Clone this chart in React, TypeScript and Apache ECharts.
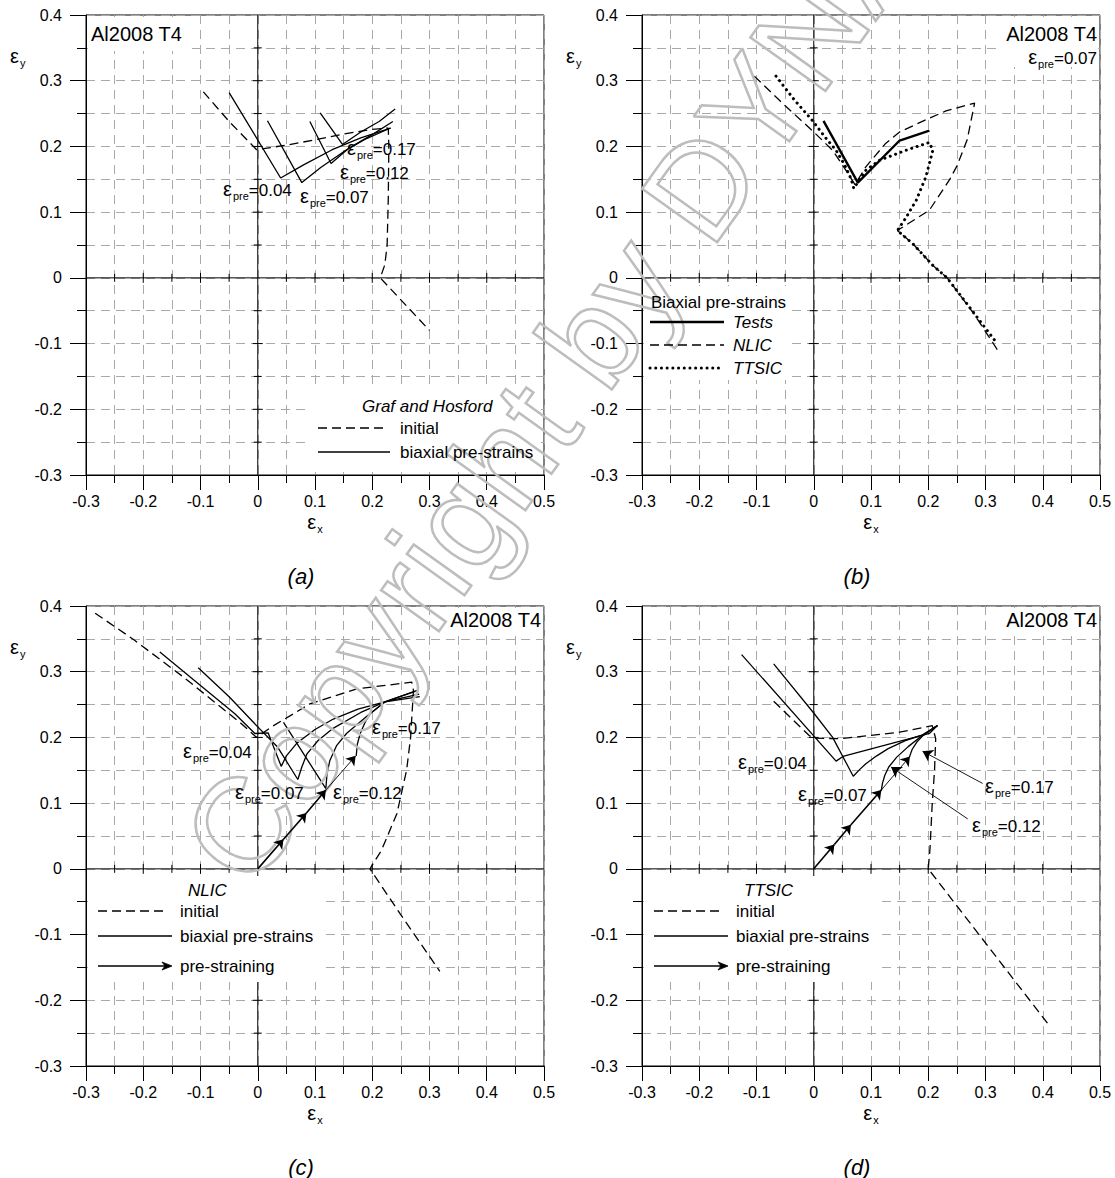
import React, { useEffect, useRef } from "react";
import * as echarts from "echarts";

const FONT = "'Liberation Sans', Arial, Helvetica, sans-serif";

// ---------- axes ----------
const X_MIN = -0.3;
const X_MAX = 0.5;
const Y_MIN = -0.3;
const Y_MAX = 0.4;
const innerTicksX = [-0.25, -0.2, -0.15, -0.1, -0.05, 0.05, 0.1, 0.15, 0.2, 0.25, 0.3, 0.35, 0.4, 0.45];
const innerTicksY = [-0.25, -0.2, -0.15, -0.1, -0.05, 0.05, 0.1, 0.15, 0.2, 0.25, 0.3, 0.35];

// ---------- panel (a): Graf and Hosford ----------
const aInitial = [[-0.095, 0.283], [-0.05, 0.238], [-0.002, 0.195], [0.05, 0.202], [0.1, 0.21], [0.15, 0.219], [0.2, 0.226], [0.228, 0.228], [0.229, 0.2], [0.228, 0.12], [0.226, 0.05], [0.222, 0.02], [0.214, 0.0], [0.3, -0.08]];
const aPre004 = [[-0.05, 0.282], [0.04, 0.152], [0.08, 0.172], [0.13, 0.195], [0.18, 0.213], [0.232, 0.228]];
const aPre007 = [[0.017, 0.239], [0.077, 0.145], [0.11, 0.168], [0.15, 0.192], [0.19, 0.212], [0.232, 0.228]];
const aPre012 = [[0.091, 0.238], [0.128, 0.174], [0.16, 0.198], [0.2, 0.218], [0.236, 0.238]];
const aPre017 = [[0.109, 0.251], [0.148, 0.203], [0.18, 0.222], [0.212, 0.238], [0.24, 0.257]];

// ---------- panel (b): pre-strain 0.07 ----------
const bTests = [[0.017, 0.239], [0.077, 0.145], [0.15, 0.209], [0.202, 0.224]];
const bNLIC = [[-0.104, 0.307], [-0.05, 0.262], [0.0, 0.222], [0.033, 0.194], [0.056, 0.164], [0.072, 0.142], [0.091, 0.169], [0.126, 0.205], [0.15, 0.222], [0.202, 0.243], [0.231, 0.254], [0.281, 0.266], [0.268, 0.21], [0.25, 0.17], [0.237, 0.149], [0.202, 0.103], [0.155, 0.077], [0.146, 0.072], [0.173, 0.052], [0.208, 0.019], [0.233, 0.0], [0.28, -0.055], [0.325, -0.115]];
const bTTSIC = [[-0.066, 0.307], [-0.035, 0.272], [-0.001, 0.238], [0.019, 0.215], [0.039, 0.194], [0.054, 0.172], [0.065, 0.151], [0.07, 0.136], [0.09, 0.163], [0.115, 0.179], [0.167, 0.196], [0.202, 0.206], [0.208, 0.194], [0.202, 0.174], [0.196, 0.154], [0.179, 0.118], [0.16, 0.09], [0.146, 0.072], [0.173, 0.052], [0.208, 0.019], [0.233, 0.0], [0.275, -0.048], [0.316, -0.095]];

// ---------- panel (c): NLIC ----------
const cInitial = [[-0.284, 0.389], [-0.217, 0.349], [-0.13, 0.292], [-0.06, 0.243], [-0.03, 0.222], [-0.002, 0.2], [0.024, 0.216], [0.091, 0.251], [0.173, 0.274], [0.269, 0.284], [0.272, 0.272], [0.267, 0.2], [0.26, 0.15], [0.243, 0.084], [0.216, 0.028], [0.196, 0.0], [0.25, -0.07], [0.318, -0.156]];
const cPre004 = [[-0.171, 0.33], [-0.1, 0.279], [-0.04, 0.236], [-0.005, 0.206], [0.018, 0.207], [0.041, 0.156], [0.05, 0.172], [0.068, 0.191], [0.1, 0.212], [0.132, 0.228], [0.175, 0.243], [0.222, 0.254], [0.28, 0.272]];
const cPre007 = [[-0.104, 0.306], [-0.05, 0.262], [0.0, 0.216], [0.035, 0.185], [0.07, 0.136], [0.077, 0.155], [0.086, 0.175], [0.105, 0.195], [0.13, 0.213], [0.18, 0.238], [0.222, 0.254], [0.282, 0.266]];
const cPre012 = [[0.045, 0.223], [0.119, 0.122], [0.121, 0.145], [0.126, 0.165], [0.138, 0.188], [0.155, 0.206], [0.19, 0.232], [0.222, 0.254], [0.283, 0.262]];
const cPre017 = [[0.172, 0.172], [0.174, 0.19], [0.179, 0.206], [0.187, 0.222], [0.196, 0.236], [0.222, 0.254], [0.275, 0.27]];
const cPathThick = [[[0, 0], [0.045, 0.045]], [[0.045, 0.045], [0.085, 0.085]], [[0.085, 0.085], [0.119, 0.12]]];
const cPathThin = [[[0.119, 0.12], [0.171, 0.172]]];

// ---------- panel (d): TTSIC ----------
const dInitial = [[-0.07, 0.255], [-0.008, 0.203], [0.0, 0.199], [0.045, 0.198], [0.1, 0.203], [0.15, 0.208], [0.207, 0.218], [0.213, 0.198], [0.211, 0.15], [0.207, 0.1], [0.203, 0.03], [0.2, 0.0], [0.263, -0.071], [0.411, -0.238]];
const dPre004 = [[-0.126, 0.326], [0.039, 0.164], [0.051, 0.171], [0.202, 0.206], [0.216, 0.218]];
const dPre007 = [[-0.07, 0.312], [0.001, 0.236], [0.033, 0.2], [0.069, 0.141], [0.08, 0.151], [0.091, 0.16], [0.11, 0.172], [0.13, 0.183], [0.16, 0.195], [0.19, 0.204], [0.216, 0.218]];
const dPre012 = [[0.118, 0.119], [0.12, 0.13], [0.124, 0.142], [0.131, 0.155], [0.145, 0.17], [0.165, 0.186], [0.185, 0.2], [0.205, 0.211], [0.216, 0.218]];
const dPre017 = [[0.167, 0.17], [0.172, 0.182], [0.18, 0.193], [0.19, 0.202], [0.2, 0.209], [0.216, 0.218]];
const dPathThick = [[[0, 0], [0.036, 0.037]], [[0.036, 0.037], [0.065, 0.067]], [[0.065, 0.067], [0.118, 0.12]]];
const dPathThin = [[[0.118, 0.12], [0.168, 0.171]]];
const dPointer017 = [[[0.295, 0.13], [0.19, 0.179]]];
const dPointer012 = [[[0.269, 0.076], [0.135, 0.155]]];

// ---------- layout ----------
const W = 458;
const H = 460;
const GRIDS = [
  { left: 86, top: 15 },
  { left: 642, top: 15 },
  { left: 86, top: 606 },
  { left: 642, top: 606 },
];

const DASH = [9, 5];
const DOT = [0.1, 5.6];

const RICH = {
  e: { fontFamily: FONT, fontSize: 20, fill: "#000", color: "#000", verticalAlign: "bottom", padding: [0, 1, 3, 0] },
  s: { fontFamily: FONT, fontSize: 11, fill: "#000", color: "#000", verticalAlign: "bottom", padding: [0, 0, 0, 0] },
  n: { fontFamily: FONT, fontSize: 17, fill: "#000", color: "#000", verticalAlign: "bottom", padding: [0, 0, 3, 0] },
};

function fmt(v: number) {
  const r = Math.round(v * 10) / 10;
  return r === 0 ? "0" : r.toFixed(1);
}

function txt(x: number, y: number, text: string, o: any = {}) {
  return {
    type: "text",
    x,
    y,
    z: 20,
    style: {
      text,
      fontFamily: FONT,
      fontSize: o.size ?? 17,
      fontStyle: o.italic ? "italic" : "normal",
      fill: "#000",
      align: o.align ?? "left",
      verticalAlign: "middle",
    },
  };
}

function eps(x: number, y: number, sub: string, rest: string, align = "left") {
  const text = "{e|ε}{s|" + sub + "}" + (rest ? "{n|" + rest + "}" : "");
  return {
    type: "text",
    x,
    y,
    z: 20,
    style: { text, rich: RICH, fill: "#000", align, verticalAlign: "middle" },
  };
}

function seg(x1: number, x2: number, y: number, dash: any, width = 1.3) {
  return {
    type: "line",
    z: 20,
    shape: { x1, y1: y, x2, y2: y },
    style: { stroke: "#000", lineWidth: width, lineDash: dash, lineCap: dash && dash[0] < 1 ? "round" : "butt" },
  };
}

function arrowSample(x1: number, x2: number, y: number) {
  return [
    seg(x1, x2 - 3, y, null, 1.3),
    {
      type: "polygon",
      z: 20,
      shape: { points: [[x2, y], [x2 - 10, y - 4], [x2 - 7, y], [x2 - 10, y + 4]] },
      style: { fill: "#000", stroke: "#000", lineWidth: 0.8 },
    },
  ];
}

function whiteBox(x: number, y: number, w: number, h: number) {
  return { type: "rect", z: 2, shape: { x, y, width: w, height: h }, style: { fill: "#fff" } };
}

function lineSeries(data: number[][], gi: number, kind: "solid" | "dashed" | "dotted", width = 1.3) {
  const ls: any = { color: "#000", width, type: "solid" };
  if (kind === "dashed") ls.type = DASH;
  if (kind === "dotted") {
    ls.type = DOT;
    ls.width = 3;
    ls.cap = "round";
  }
  return {
    type: "line",
    xAxisIndex: gi,
    yAxisIndex: gi,
    data,
    showSymbol: false,
    symbol: "none",
    silent: true,
    z: 3,
    lineStyle: ls,
  };
}

function arrowSeries(segs: number[][][], gi: number, width = 1.4, size = 9) {
  return {
    type: "lines",
    coordinateSystem: "cartesian2d",
    xAxisIndex: gi,
    yAxisIndex: gi,
    silent: true,
    z: 4,
    symbol: ["none", "arrow"],
    symbolSize: size,
    lineStyle: { color: "#000", width, opacity: 1, curveness: 0 },
    itemStyle: { color: "#000" },
    data: segs.map((s) => ({ coords: s })),
  };
}

function innerAxes(gi: number) {
  return {
    type: "custom",
    xAxisIndex: gi,
    yAxisIndex: gi,
    silent: true,
    z: 1,
    data: [[0, 0]],
    encode: { x: 0, y: 1 },
    renderItem: (_p: any, api: any) => {
      const st = { stroke: "#000", lineWidth: 1 };
      const ch: any[] = [];
      const a = api.coord([0, Y_MIN]);
      const b = api.coord([0, Y_MAX]);
      ch.push({ type: "line", shape: { x1: a[0], y1: a[1], x2: b[0], y2: b[1] }, style: st });
      const c = api.coord([X_MIN, 0]);
      const d = api.coord([X_MAX, 0]);
      ch.push({ type: "line", shape: { x1: c[0], y1: c[1], x2: d[0], y2: d[1] }, style: st });
      innerTicksY.forEach((v) => {
        const p = api.coord([0, v]);
        const l = Math.abs(Math.round(v * 10) - v * 10) < 1e-6 ? 5 : 4;
        ch.push({ type: "line", shape: { x1: p[0] - l, y1: p[1], x2: p[0] + l, y2: p[1] }, style: st });
      });
      innerTicksX.forEach((v) => {
        const p = api.coord([v, 0]);
        const l = Math.abs(Math.round(v * 10) - v * 10) < 1e-6 ? 5 : 4;
        ch.push({ type: "line", shape: { x1: p[0], y1: p[1] - l, x2: p[0], y2: p[1] + l }, style: st });
      });
      return { type: "group", children: ch };
    },
  };
}

function buildOption() {
  const gridLine = { color: "#a9a9a9", type: [9, 6], width: 1 };
  const grid = GRIDS.map((g) => ({
    left: g.left,
    top: g.top,
    width: W,
    height: H,
    show: true,
    borderColor: "#000",
    borderWidth: 1,
    backgroundColor: "transparent",
  }));
  const xAxis = GRIDS.map((_g, i) => ({
    gridIndex: i,
    type: "value",
    min: X_MIN,
    max: X_MAX,
    interval: 0.1,
    axisLine: { onZero: false, lineStyle: { color: "#000", width: 1 } },
    axisTick: { length: 15, lineStyle: { color: "#000", width: 1 } },
    minorTick: { show: true, splitNumber: 2, length: 8, lineStyle: { color: "#000", width: 1 } },
    splitLine: { show: true, lineStyle: gridLine },
    minorSplitLine: { show: true, lineStyle: gridLine },
    axisLabel: { formatter: fmt, fontSize: 16, fontFamily: FONT, color: "#000", margin: 18 },
  }));
  const yAxis = GRIDS.map((_g, i) => ({
    gridIndex: i,
    type: "value",
    min: Y_MIN,
    max: Y_MAX,
    interval: 0.1,
    axisLine: { onZero: false, lineStyle: { color: "#000", width: 1 } },
    axisTick: { length: 16, lineStyle: { color: "#000", width: 1 } },
    minorTick: { show: true, splitNumber: 2, length: 9, lineStyle: { color: "#000", width: 1 } },
    splitLine: { show: true, lineStyle: gridLine },
    minorSplitLine: { show: true, lineStyle: gridLine },
    axisLabel: { formatter: fmt, fontSize: 16, fontFamily: FONT, color: "#000", margin: 24 },
  }));

  const series: any[] = [];
  for (let i = 0; i < 4; i++) series.push(innerAxes(i));
  // (a)
  series.push(lineSeries(aInitial, 0, "dashed"));
  [aPre004, aPre007, aPre012, aPre017].forEach((d) => series.push(lineSeries(d, 0, "solid")));
  // (b)
  series.push(lineSeries(bTests, 1, "solid", 2.4));
  series.push(lineSeries(bNLIC, 1, "dashed"));
  series.push(lineSeries(bTTSIC, 1, "dotted"));
  // (c)
  series.push(lineSeries(cInitial, 2, "dashed"));
  [cPre004, cPre007, cPre012, cPre017].forEach((d) => series.push(lineSeries(d, 2, "solid")));
  series.push(arrowSeries(cPathThick, 2, 1.6, 9));
  series.push(arrowSeries(cPathThin, 2, 0.9, 9));
  // (d)
  series.push(lineSeries(dInitial, 3, "dashed"));
  [dPre004, dPre007, dPre012, dPre017].forEach((d) => series.push(lineSeries(d, 3, "solid")));
  series.push(arrowSeries(dPathThick, 3, 1.6, 9));
  series.push(arrowSeries(dPathThin, 3, 0.9, 9));
  series.push(arrowSeries(dPointer017, 3, 0.9, 10));
  series.push(arrowSeries(dPointer012, 3, 0.9, 10));

  const g: any[] = [];
  // watermark
  g.push({
    type: "text",
    x: 268,
    y: 905,
    rotation: 0.95,
    z: 4,
    style: {
      text: "Copyright by DYNARDO",
      fontFamily: FONT,
      fontSize: 134,
      fill: "none",
      stroke: "#bdbdbd",
      lineWidth: 2.5,
      align: "left",
      verticalAlign: "bottom",
    },
  });

  // axis titles and captions
  GRIDS.forEach((gr, i) => {
    g.push(eps(gr.left - 76, gr.top + 42, "y", ""));
    g.push(eps(gr.left + W / 2, gr.top + H + 48, "x", "", "center"));
    g.push(txt(gr.left + W / 2 - 14, gr.top + H + 101, ["(a)", "(b)", "(c)", "(d)"][i], { italic: true, size: 22, align: "center" }));
  });

  // (a) labels
  g.push(whiteBox(88, 17, 104, 34));
  g.push(txt(91, 34, "Al2008 T4", { size: 20 }));
  g.push(eps(223, 190, "pre", "=0.04"));
  g.push(eps(300, 197, "pre", "=0.07"));
  g.push(eps(340, 173, "pre", "=0.12"));
  g.push(eps(347, 149, "pre", "=0.17"));
  g.push(whiteBox(308, 390, 233, 82));
  g.push(txt(362, 406, "Graf and Hosford", { italic: true }));
  g.push(seg(318, 388, 428, DASH));
  g.push(txt(400, 428, "initial"));
  g.push(seg(318, 390, 452, null));
  g.push(txt(400, 452, "biaxial pre-strains"));

  // (b) labels
  g.push(whiteBox(996, 17, 102, 50));
  g.push(txt(1097, 34, "Al2008 T4", { size: 20, align: "right" }));
  g.push(eps(1097, 58, "pre", "=0.07", "right"));
  g.push(whiteBox(644, 286, 148, 94));
  g.push(txt(651, 302, "Biaxial pre-strains"));
  g.push(seg(650, 724, 322, null, 2.4));
  g.push(txt(733, 322, "Tests", { italic: true }));
  g.push(seg(650, 724, 345, DASH));
  g.push(txt(733, 345, "NLIC", { italic: true }));
  g.push(seg(650, 724, 368, DOT, 3));
  g.push(txt(733, 368, "TTSIC", { italic: true }));

  // (c) labels
  g.push(whiteBox(444, 608, 98, 24));
  g.push(txt(541, 620, "Al2008 T4", { size: 20, align: "right" }));
  g.push(eps(183, 752, "pre", "=0.04"));
  g.push(eps(235, 793, "pre", "=0.07"));
  g.push(eps(333, 793, "pre", "=0.12"));
  g.push(eps(372, 728, "pre", "=0.17"));
  g.push(whiteBox(88, 876, 232, 106));
  g.push(txt(188, 890, "NLIC", { italic: true }));
  g.push(seg(98, 168, 911, DASH));
  g.push(txt(180, 911, "initial"));
  g.push(seg(98, 172, 936, null));
  g.push(txt(180, 936, "biaxial pre-strains"));
  arrowSample(98, 172, 966).forEach((e) => g.push(e));
  g.push(txt(180, 966, "pre-straining"));

  // (d) labels
  g.push(whiteBox(1000, 608, 98, 24));
  g.push(txt(1097, 620, "Al2008 T4", { size: 20, align: "right" }));
  g.push(eps(738, 763, "pre", "=0.04"));
  g.push(eps(798, 795, "pre", "=0.07"));
  g.push(eps(985, 787, "pre", "=0.17"));
  g.push(eps(972, 826, "pre", "=0.12"));
  g.push(whiteBox(644, 876, 232, 106));
  g.push(txt(744, 890, "TTSIC", { italic: true }));
  g.push(seg(654, 724, 911, DASH));
  g.push(txt(736, 911, "initial"));
  g.push(seg(654, 728, 936, null));
  g.push(txt(736, 936, "biaxial pre-strains"));
  arrowSample(654, 728, 966).forEach((e) => g.push(e));
  g.push(txt(736, 966, "pre-straining"));

  return {
    animation: false,
    backgroundColor: "#fff",
    textStyle: { fontFamily: FONT },
    grid,
    xAxis,
    yAxis,
    series,
    graphic: { elements: g },
  };
}

export default function App() {
  const ref = useRef<HTMLDivElement>(null);
  useEffect(() => {
    const chart = echarts.init(ref.current as HTMLDivElement, undefined, { renderer: "svg" });
    chart.setOption(buildOption() as any);
    return () => chart.dispose();
  }, []);
  return (
    <div
      ref={ref}
      style={{ position: "absolute", left: 0, top: 0, width: 1115, height: 1178, background: "#fff" }}
    />
  );
}
